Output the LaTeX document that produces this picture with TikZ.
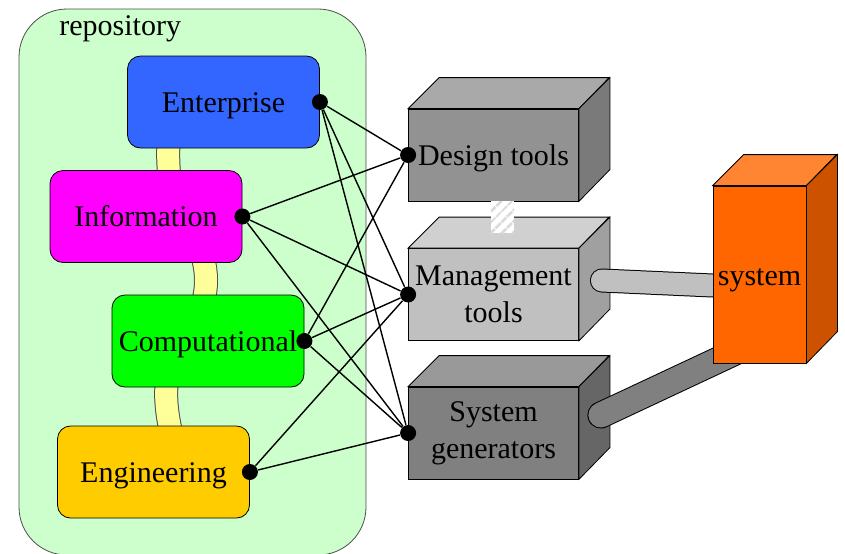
\documentclass[tikz,border=0pt]{standalone}
\usepackage{fontspec}
\setmainfont{Liberation Serif}
\usepackage{tikz}
\usetikzlibrary{calc}
\usetikzlibrary{patterns.meta}
\usetikzlibrary{positioning}
\usepackage{xcolor}

\definecolor{repogreen}{HTML}{CCFFCC}
\definecolor{entblue}{HTML}{3366FF}
\definecolor{infmagenta}{HTML}{FF00FF}
\definecolor{compgreen}{HTML}{00FF00}
\definecolor{engyellow}{HTML}{FFCC00}
\definecolor{linkyellow}{HTML}{FFFF99}
\definecolor{desfront}{HTML}{929292}
\definecolor{destop}{HTML}{A9A9A9}
\definecolor{desside}{HTML}{7A7A7A}
\definecolor{manfront}{HTML}{C0C0C0}
\definecolor{mantop}{HTML}{D0D0D0}
\definecolor{manside}{HTML}{A0A0A0}
\definecolor{genfront}{HTML}{808080}
\definecolor{gentop}{HTML}{999999}
\definecolor{genside}{HTML}{666666}
\definecolor{sysfront}{HTML}{FF6600}
\definecolor{systop}{HTML}{FF8533}
\definecolor{sysside}{HTML}{CC5200}
\definecolor{pipelight}{HTML}{C0C0C0}
\definecolor{pipedark}{HTML}{808080}

\pgfdeclarelayer{front}
\pgfsetlayers{main,front}

\begin{document}
\begin{tikzpicture}[x=0.5pt, y=-0.5pt, font=\fontsize{15}{18.5}\selectfont]
    \tikzset{Layer/.style={rectangle, rounded corners=6.5pt, draw, text centered, text height=10pt, text depth=0pt, minimum width=96pt, minimum height=46pt, inner sep=1pt}};
    \tikzset{Tool/.style={rectangle, draw, align=center, minimum width=85pt, minimum height=46pt, inner sep=1pt}};
    \tikzset{Point/.style={circle, fill, inner sep=0pt, minimum size=8pt}};
    \tikzset{Link/.style={draw=black!70, line width=0.5pt, double=linkyellow, double distance=11pt}};
    \tikzset{Pipe/.style={draw=black, line width=0.5pt, line cap=round}};

    \useasboundingbox (0,0) rectangle (845,553);

    % repository
    \node[draw=black!70, fill=repogreen, rounded corners=24pt, minimum width=173.5pt, minimum height=273pt, inner sep=0pt] (repo) at (192.5,282) {};
    \node[anchor=base west, inner sep=0pt] (title) at (59,35) {repository};

    \begin{pgfonlayer}{front}
    \node[Layer, fill=entblue](ent) at (223.5,102) {Enterprise};
    \node[Layer, fill=infmagenta](inf) at (146,216.5) {Information};
    \node[Layer, fill=compgreen](comp) at (208,341) {Computational};
    \node[Layer, fill=engyellow](eng) at (153.5,472) {Engineering};

    \node[rectangle, draw, fill=sysfront, text height=11pt, text depth=0pt, minimum width=46.5pt, minimum height=88.5pt, inner sep=1pt](sys) at (759.5,274.5) {system};
    \draw[fill=systop] (sys.north west) --++(31,-31) --++(93,0) --(sys.north east) --cycle;
    \draw[fill=sysside] (sys.north east) --++(31,-31) --++(0,177) --(sys.south east) --cycle;
    \end{pgfonlayer}

    % links between the layers, ends hidden under the boxes
    \draw[Link] ([xshift=-26.75pt, yshift=10pt]ent.south) .. controls +(-3,20) and +(-3,-20) .. ([xshift=12.5pt, yshift=-10pt]inf.north);
    \draw[Link] ([xshift=26pt, yshift=10pt]inf.south) .. controls +(10,25) and +(10,-25) .. ([xshift=-4.5pt, yshift=-10pt]comp.north);
    \draw[Link] ([xshift=-19pt, yshift=10pt]comp.south) .. controls +(-8,25) and +(-6,-25) .. ([xshift=10.25pt, yshift=-10pt]eng.north);

    % tools
    \node[Tool, fill=desfront, text depth=0pt](des) at (493.5,155) {Design tools};
    \node[Tool, fill=manfront](man) at (493.5,294.5) {Management\\tools};
    \node[Tool, fill=genfront](gen) at (493.5,433) {System\\generators};
    \foreach \n in {des, man, gen}{
        \draw[fill=\n top] (\n.north west) --++(31,-31) --++(170,0) --(\n.north east) --cycle;
        \draw[fill=\n side] (\n.north east) --++(31,-31) --++(0,92) --(\n.south east) --cycle;
    }

    \path[fill=white, postaction={pattern={Lines[angle=45, distance=4pt, line width=1.5pt]}, pattern color=black!15}]
        ($(des.south)+(-2.5,0)$) rectangle ($(des.south)+(20.5,32)$);

    \coordinate (mt) at ($(man.east)+(23,-14)$);
    \coordinate (gt) at ($(gen.east)+(22,-18)$);
    \draw[Pipe, double=pipelight, double distance=11pt] (mt) --([yshift=-5.5pt]sys.west);
    \draw[Pipe, double=pipedark, double distance=12.5pt] (gt) --([xshift=12pt, yshift=6pt]sys.south west);

    \begin{pgfonlayer}{front}
    \node[Point](pe) at (ent.east) {};
    \node[Point](pi) at (inf.east) {};
    \node[Point](pc) at (comp.east) {};
    \node[Point](pg) at (eng.east) {};
    \node[Point](qd) at (des.west) {};
    \node[Point](qm) at (man.west) {};
    \node[Point](qs) at (gen.west) {};

    \foreach \a/\b in {pe/qd, pe/qm, pe/qs, pi/qd, pi/qm, pi/qs, pc/qd, pc/qm, pc/qs, pg/qm, pg/qs}
        \draw[line width=0.7pt] (\a) --(\b);
    \end{pgfonlayer}
\end{tikzpicture}
\end{document}
